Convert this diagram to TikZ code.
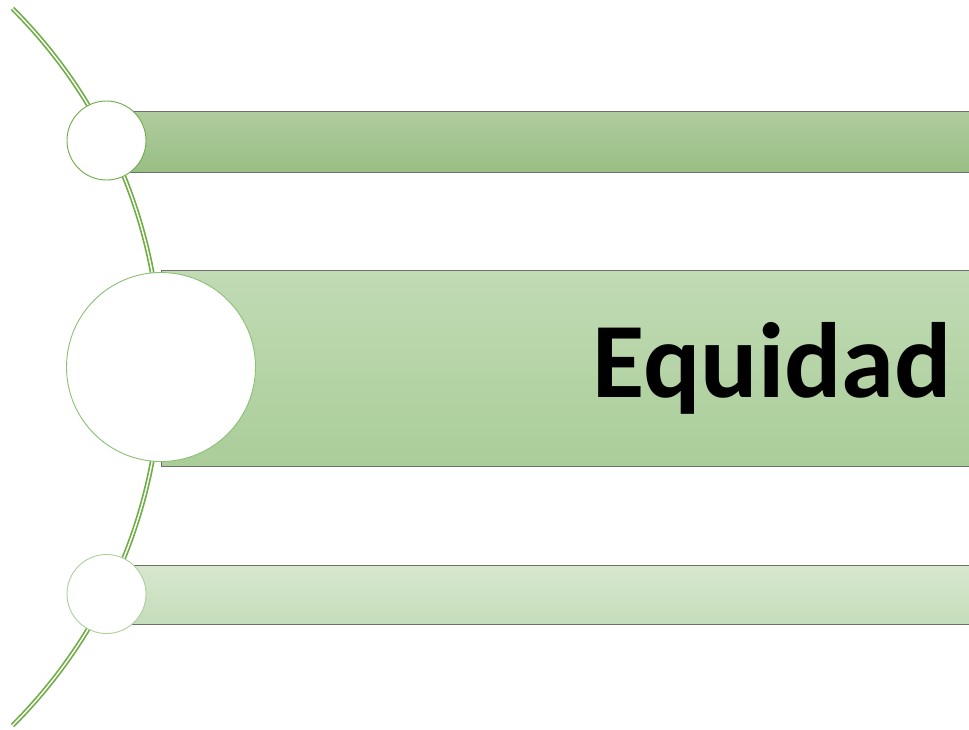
\documentclass[tikz,border=0pt]{standalone}
\usepackage{fontspec}
\setmainfont{Carlito}
\begin{document}
\begin{tikzpicture}[x=1pt,y=1pt,
  arcline/.style={draw=arcgreen,line width=1.7pt,double=white,double distance=1.4pt},
  barbox/.style={rectangle,draw=bargray,line width=1.2pt,inner sep=0pt,anchor=north west},
  ring/.style={circle,fill=white,line width=0.9pt,inner sep=0pt}]
\definecolor{arcgreen}{RGB}{112,173,71}
\definecolor{bargray}{RGB}{108,112,104}
\definecolor{b1t}{RGB}{175,204,158}
\definecolor{b1b}{RGB}{153,190,132}
\definecolor{b2t}{RGB}{193,219,181}
\definecolor{b2b}{RGB}{170,205,153}
\definecolor{b3t}{RGB}{215,231,207}
\definecolor{b3b}{RGB}{197,221,186}
\definecolor{c1}{RGB}{112,173,71}
\definecolor{c2}{RGB}{140,192,118}
\definecolor{c3}{RGB}{172,208,155}
\clip (0,0) rectangle (969,-729);
\fill[white] (0,0) rectangle (969,-729);
% arc through circle centres
\draw[arcline] (-346,-367) ++(45:507) arc[start angle=45,end angle=-45,radius=507];
% bars
\node[barbox,top color=b1t,bottom color=b1b,minimum width=900pt,minimum height=61pt] (bar1) at (106,-110.5) {};
\node[barbox,top color=b2t,bottom color=b2b,minimum width=850pt,minimum height=196pt] (bar2) at (161,-269.5) {};
\node[barbox,top color=b3t,bottom color=b3b,minimum width=900pt,minimum height=59pt] (bar3) at (106,-564.5) {};
% circles
\node[ring,draw=c1,minimum size=79pt] (k1) at (106.5,-140.5) {};
\node[ring,draw=c2,minimum size=189pt] (k2) at (161,-367) {};
\node[ring,draw=c3,minimum size=79pt] (k3) at (106.5,-594) {};
% text
\node[anchor=base east,inner sep=0pt,font=\fontsize{107}{107}\selectfont\bfseries] (t) at (952,-397) {Equidad};
\end{tikzpicture}
\end{document}
